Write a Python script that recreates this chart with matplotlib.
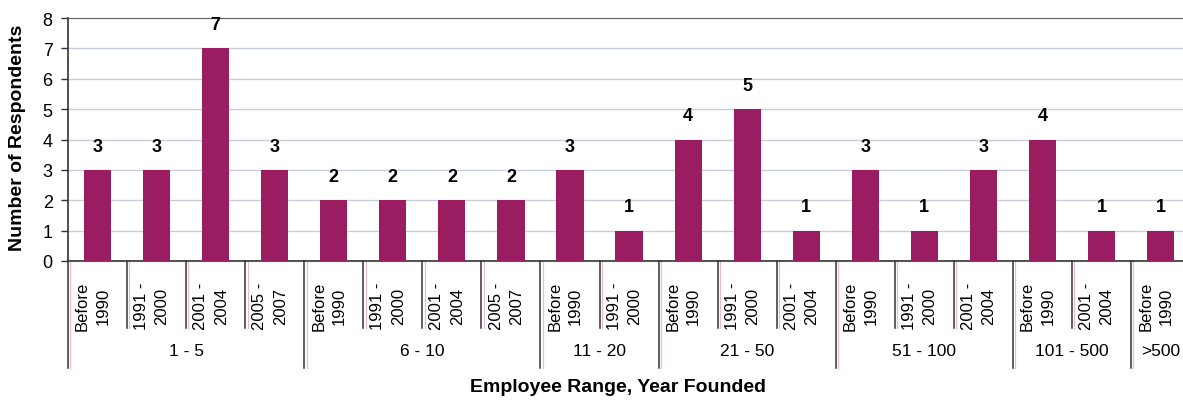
import matplotlib
matplotlib.use("Agg")
import matplotlib.pyplot as plt
import matplotlib.transforms as mtransforms

plt.rcParams['font.family'] = ['Liberation Sans', 'DejaVu Sans']

# Data
groups = ['1 - 5', '6 - 10', '11 - 20', '21 - 50', '51 - 100', '101 - 500', '>500']
group_sizes = [4, 4, 2, 3, 3, 2, 1]
sub_labels = ['Before\n1990', '1991 -\n2000', '2001 -\n2004', '2005 -\n2007',
              'Before\n1990', '1991 -\n2000', '2001 -\n2004', '2005 -\n2007',
              'Before\n1990', '1991 -\n2000',
              'Before\n1990', '1991 -\n2000', '2001 -\n2004',
              'Before\n1990', '1991 -\n2000', '2001 -\n2004',
              'Before\n1990', '2001 -\n2004',
              'Before\n1990']
counts = [3, 3, 7, 3, 2, 2, 2, 2, 3, 1, 4, 5, 1, 3, 1, 3, 4, 1, 1]

bar_color = '#9A1D62'
grid_color = '#C9CDE0'
line_color = '#333333'

W, H = 1183, 402
fig = plt.figure(figsize=(W / 100, H / 100), dpi=100)
ax_left, ax_bottom, ax_top = 68, 262, 19
ax_width = 59.06 * len(counts)
ax = fig.add_axes([ax_left / W, 1 - ax_bottom / H, ax_width / W, (ax_bottom - ax_top) / H])

x = list(range(len(counts)))
ax.bar(x, counts, width=0.46, color=bar_color, zorder=3)

for xi, v in zip(x, counts):
    ax.annotate(str(v), (xi, v), xytext=(0, 11), textcoords='offset points',
                ha='center', va='bottom', fontsize=13, fontweight='bold')

ax.set_xlim(-0.5, len(counts) - 0.5)
ax.set_ylim(0, 8)
ax.set_yticks(range(0, 9))
ax.tick_params(axis='y', labelsize=13, length=5, width=1, color=line_color, pad=6)
ax.set_xticks([])
ax.yaxis.grid(True, color=grid_color, linewidth=1, zorder=0)
ax.set_axisbelow(True)

ax.spines['right'].set_visible(False)
ax.spines['left'].set_color(line_color)
ax.spines['bottom'].set_color(line_color)
ax.spines['top'].set_color('#666666')
ax.spines['left'].set_linewidth(1.2)
ax.spines['bottom'].set_linewidth(1.2)

# category axis: separators, sub labels and group labels
trans = mtransforms.blended_transform_factory(ax.transData, ax.transAxes)
axh = ax_bottom - ax_top
sub_bottom = -(329 - ax_bottom) / axh
grp_bottom = -(369 - ax_bottom) / axh

group_ends = []
acc = 0
for n in group_sizes:
    acc += n
    group_ends.append(acc)

for k in range(len(counts) + 1):
    xb = k - 0.5
    yb = grp_bottom if (k == 0 or k in group_ends) else sub_bottom
    ax.plot([xb + 0.04, xb + 0.04], [0, yb], transform=trans, color='#E8BCD2',
            lw=0.9, clip_on=False)
    ax.plot([xb, xb], [0, yb], transform=trans, color=line_color, lw=1.1, clip_on=False)

for xi, lab in zip(x, sub_labels):
    ax.text(xi - 0.08, -(306 - ax_bottom) / axh, lab, transform=trans, rotation=90,
            ha='center', va='center', multialignment='center', fontsize=12,
            linespacing=1.45)

start = 0
for g, n in zip(groups, group_sizes):
    center = start + (n - 1) / 2
    ax.text(center, -(352 - ax_bottom) / axh, g, transform=trans,
            ha='center', va='center', fontsize=12.5)
    start += n

fig.text(18 / W, 1 - 138 / H, 'Number of Respondents', rotation=90,
         ha='center', va='center', fontsize=14, fontweight='bold')
fig.text(618 / W, 1 - 388 / H, 'Employee Range, Year Founded',
         ha='center', va='center', fontsize=14, fontweight='bold')

fig.savefig('out.png', dpi=100)
